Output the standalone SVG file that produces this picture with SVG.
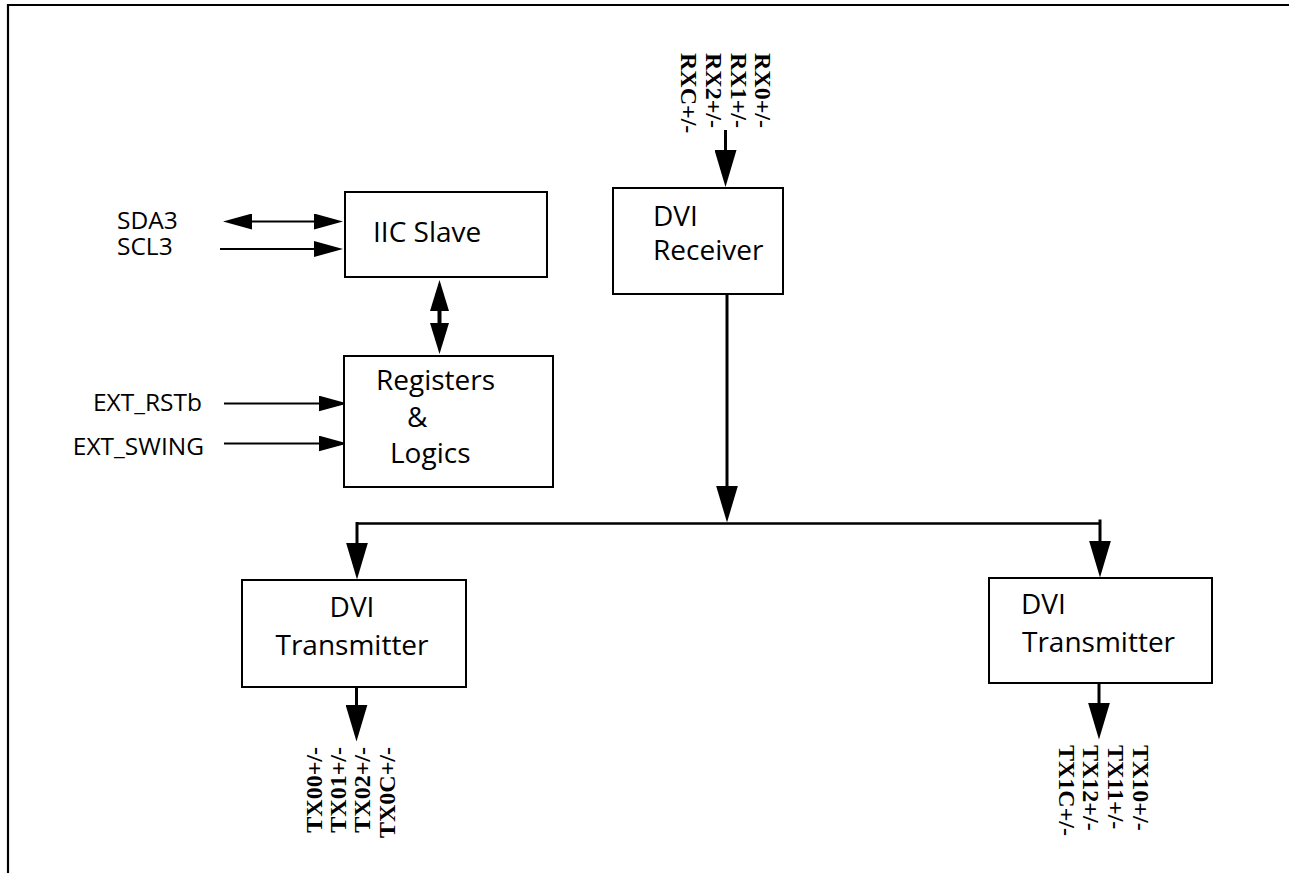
<svg xmlns="http://www.w3.org/2000/svg" width="1289" height="873" viewBox="0 0 1289 873">
<style>
.box{fill:#fff;stroke:#000;stroke-width:2}
.blk{font-family:"Open Sans","Liberation Sans",sans-serif;font-size:28px;fill:#000}
.sig{font-family:"Open Sans","Liberation Sans",sans-serif;font-size:24.5px;fill:#000}
.pin{font-family:"Liberation Serif","Times New Roman",serif;font-size:24px;font-weight:bold;fill:#000}
.ln{stroke:#000;stroke-width:2;fill:none}
.th{stroke:#000;stroke-width:3;fill:none}
</style>
<defs>
<marker id="ah" markerUnits="userSpaceOnUse" markerWidth="38" markerHeight="22" refX="1" refY="11" orient="auto-start-reverse"><path d="M0,0 L37,11 L0,22 Z" fill="#000"/></marker>
<marker id="am" markerUnits="userSpaceOnUse" markerWidth="32" markerHeight="19" refX="1" refY="9.5" orient="auto-start-reverse"><path d="M0,0 L31,9.5 L0,19 Z" fill="#000"/></marker>
<marker id="as" markerUnits="userSpaceOnUse" markerWidth="30" markerHeight="16" refX="1" refY="8" orient="auto-start-reverse"><path d="M0,0 L29,8 L0,16 Z" fill="#000"/></marker>
</defs>
<rect width="1289" height="873" fill="#fff"/>
<path d="M8,873 V5 H1289" stroke="#000" stroke-width="2.2" fill="none"/>

<g id="connectors">
<line class="th" x1="725.5" y1="130" x2="725.5" y2="151"/>
<line class="th" x1="725.5" y1="140" x2="725.5" y2="151" marker-end="url(#ah)"/>
<line class="ln" x1="251" y1="221.5" x2="315" y2="221.5" marker-start="url(#as)" marker-end="url(#as)"/>
<line class="ln" x1="220" y1="249" x2="315" y2="249" marker-end="url(#as)"/>
<line stroke="#000" stroke-width="4" x1="439.5" y1="310" x2="439.5" y2="324" marker-start="url(#am)" marker-end="url(#am)"/>
<line class="ln" x1="224" y1="403.5" x2="319.5" y2="403.5" marker-end="url(#as)"/>
<line class="ln" x1="224" y1="443.5" x2="319.5" y2="443.5" marker-end="url(#as)"/>
<line class="th" x1="727" y1="294" x2="727" y2="486.5" marker-end="url(#ah)"/>
<line stroke="#000" stroke-width="2.5" x1="356" y1="523.5" x2="1101" y2="523.5"/>
<line class="th" x1="357" y1="522" x2="357" y2="543.5" marker-end="url(#ah)"/>
<line class="th" x1="1100" y1="519.5" x2="1100" y2="541.5" marker-end="url(#ah)"/>
<line class="th" x1="356.5" y1="687" x2="356.5" y2="705.5" marker-end="url(#ah)"/>
<line class="th" x1="1099" y1="683" x2="1099" y2="703.5" marker-end="url(#ah)"/>
</g>

<g id="iic_slave">
<rect class="box" x="345" y="192" width="202" height="85"/>
<text class="blk" x="373" y="242">IIC Slave</text>
</g>
<g id="registers">
<rect class="box" x="344" y="356" width="209" height="131"/>
<text class="blk" x="376" y="390">Registers</text>
<text class="blk" x="407" y="427">&amp;</text>
<text class="blk" x="390" y="463">Logics</text>
</g>
<g id="dvi_receiver">
<rect class="box" x="613" y="188" width="170" height="106"/>
<text class="blk" x="653" y="226">DVI</text>
<text class="blk" x="653" y="260">Receiver</text>
</g>
<g id="dvi_tx0">
<rect class="box" x="242" y="580" width="224" height="107"/>
<text class="blk" x="352" y="617" text-anchor="middle">DVI</text>
<text class="blk" x="352" y="655" text-anchor="middle">Transmitter</text>
</g>
<g id="dvi_tx1">
<rect class="box" x="989" y="578" width="223" height="105"/>
<text class="blk" x="1021" y="614">DVI</text>
<text class="blk" x="1022" y="652">Transmitter</text>
</g>

<g id="left_signals">
<text class="sig" x="117" y="229">SDA3</text>
<text class="sig" x="117" y="255">SCL3</text>
<text class="sig" x="202" y="411" text-anchor="end">EXT_RSTb</text>
<text class="sig" x="204" y="455" text-anchor="end">EXT_SWING</text>
</g>

<g id="rx_pins">
<text class="pin" transform="translate(755,53) rotate(90)">RX0+/-</text>
<text class="pin" transform="translate(730.5,53) rotate(90)">RX1+/-</text>
<text class="pin" transform="translate(706,53) rotate(90)">RX2+/-</text>
<text class="pin" transform="translate(681,53) rotate(90)">RXC+/-</text>
</g>
<g id="tx0_pins">
<text class="pin" text-anchor="end" transform="translate(321.5,747) rotate(-90)">TX00+/-</text>
<text class="pin" text-anchor="end" transform="translate(345.5,747) rotate(-90)">TX01+/-</text>
<text class="pin" text-anchor="end" transform="translate(370,747) rotate(-90)">TX02+/-</text>
<text class="pin" text-anchor="end" transform="translate(394.5,747) rotate(-90)">TX0C+/-</text>
</g>
<g id="tx1_pins">
<text class="pin" transform="translate(1133,745) rotate(90)">TX10+/-</text>
<text class="pin" transform="translate(1108,745) rotate(90)">TX11+/-</text>
<text class="pin" transform="translate(1083,745) rotate(90)">TX12+/-</text>
<text class="pin" transform="translate(1059,745) rotate(90)">TX1C+/-</text>
</g>
</svg>
